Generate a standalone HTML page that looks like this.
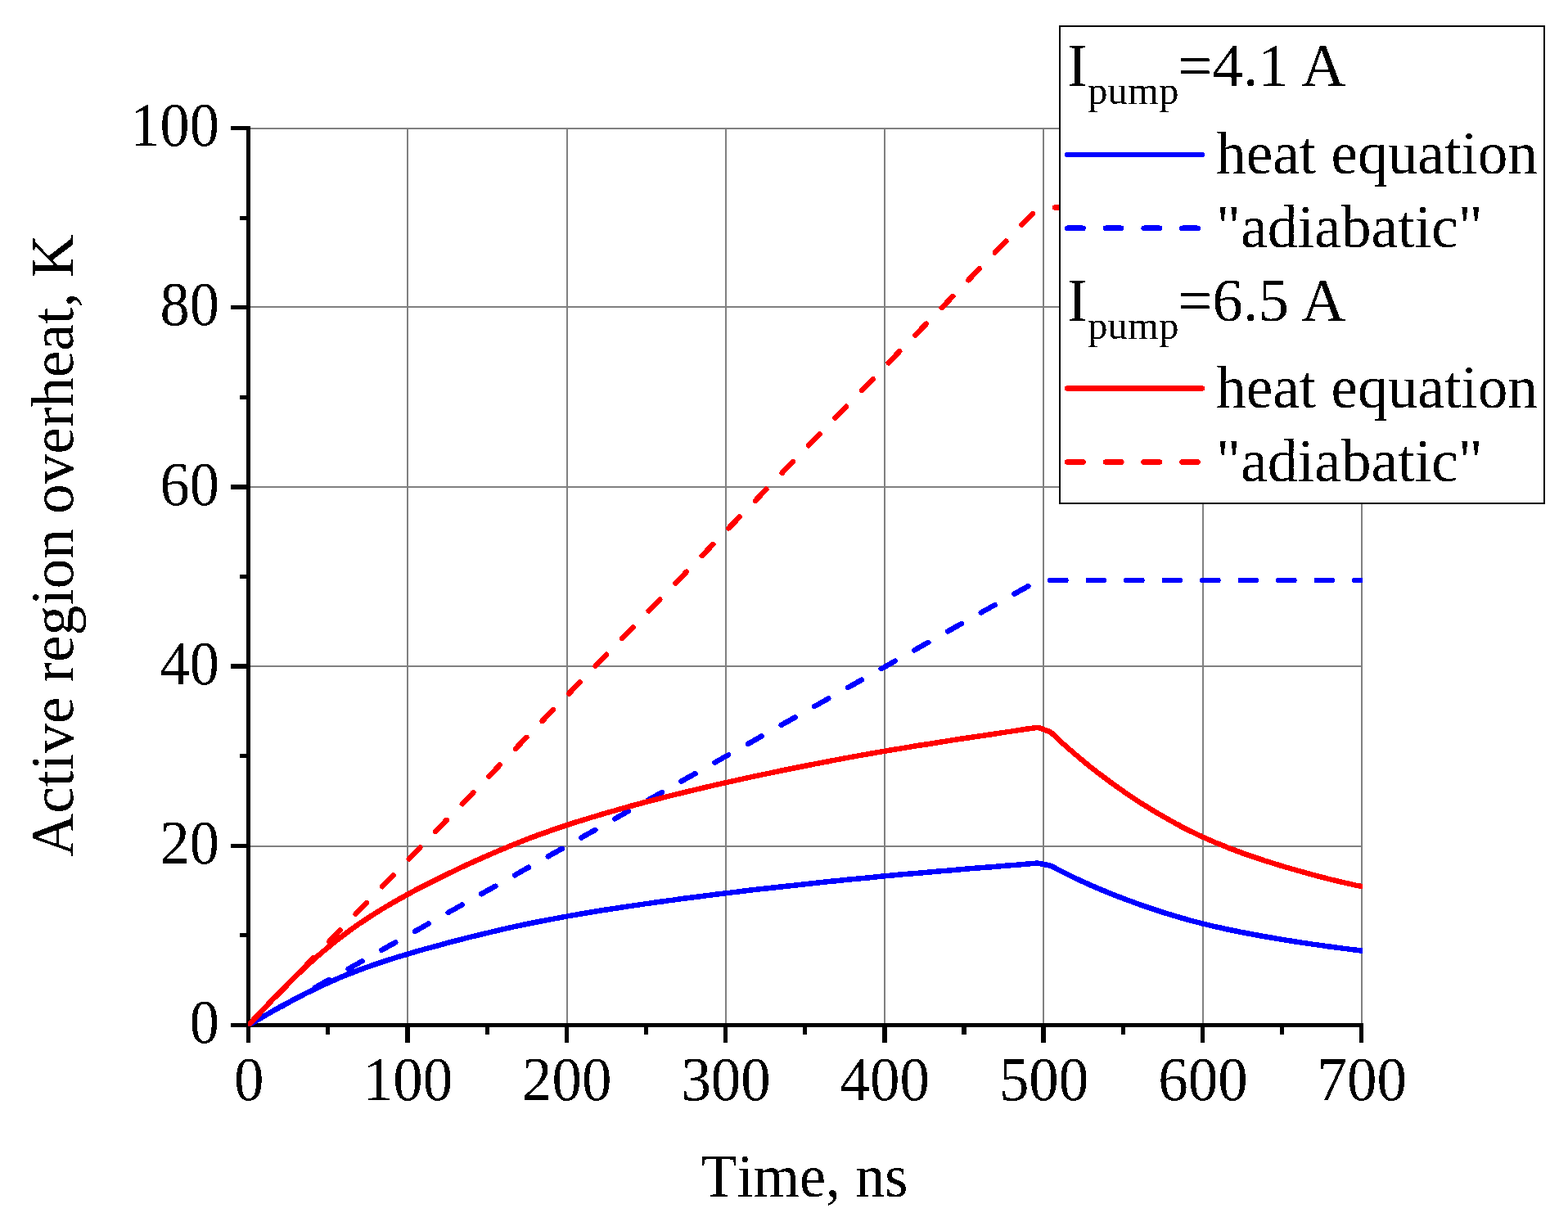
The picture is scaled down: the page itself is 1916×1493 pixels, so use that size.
<!DOCTYPE html>
<html lang="en">
<head>
<meta charset="utf-8">
<title>Active region overheat vs time</title>
<style>
html,body{margin:0;padding:0;background:#fff;}
body{width:1916px;height:1493px;overflow:hidden;}
svg{display:block;}
text{font-family:'Liberation Serif','Times New Roman',Times,serif;fill:#000;font-kerning:none;}
.cv{fill:none;stroke-width:6.5;stroke-linejoin:round;stroke-linecap:round;}
.dash{stroke-dasharray:19.4 27.3;}
.tk{font-size:76px;}
.ttl{font-size:74px;}
.lg{font-size:75px;}
.sub{font-size:49px;}
</style>
</head>
<body>
<svg width="1916" height="1493" viewBox="0 0 1916 1493">
<rect x="0" y="0" width="1916" height="1493" fill="#ffffff"/>
<defs>
<filter id="hard" filterUnits="userSpaceOnUse" x="0" y="0" width="1916" height="1493" color-interpolation-filters="sRGB">
<feComponentTransfer><feFuncA type="discrete" tableValues="0 1"/></feComponentTransfer>
</filter>
</defs>

<g fill="#808080" shape-rendering="crispEdges">
<rect x="497" y="156" width="2" height="1096"/>
<rect x="692" y="156" width="2" height="1096"/>
<rect x="886" y="156" width="2" height="1096"/>
<rect x="1080" y="156" width="2" height="1096"/>
<rect x="1274" y="156" width="2" height="1096"/>
<rect x="1469" y="156" width="2" height="1096"/>
<rect x="1663" y="156" width="2" height="1096"/>
<rect x="304" y="156" width="1361" height="2"/>
<rect x="304" y="374" width="1361" height="2"/>
<rect x="304" y="594" width="1361" height="2"/>
<rect x="304" y="813" width="1361" height="2"/>
<rect x="304" y="1033" width="1361" height="2"/>
</g>
<g fill="#000" shape-rendering="crispEdges">
<rect x="301" y="154" width="5" height="1101"/>
<rect x="301" y="1250" width="1365" height="5"/>
<rect x="301" y="1250" width="5" height="24"/>
<rect x="398" y="1250" width="5" height="14"/>
<rect x="495" y="1250" width="6" height="24"/>
<rect x="593" y="1250" width="5" height="14"/>
<rect x="690" y="1250" width="5" height="24"/>
<rect x="787" y="1250" width="5" height="14"/>
<rect x="884" y="1250" width="5" height="24"/>
<rect x="981" y="1250" width="5" height="14"/>
<rect x="1078" y="1250" width="6" height="24"/>
<rect x="1175" y="1250" width="6" height="14"/>
<rect x="1272" y="1250" width="6" height="24"/>
<rect x="1370" y="1250" width="5" height="14"/>
<rect x="1467" y="1250" width="5" height="24"/>
<rect x="1564" y="1250" width="5" height="14"/>
<rect x="1661" y="1250" width="5" height="24"/>
<rect x="282" y="154" width="21" height="5"/>
<rect x="293" y="264" width="10" height="5"/>
<rect x="282" y="373" width="21" height="5"/>
<rect x="293" y="483" width="10" height="5"/>
<rect x="282" y="592" width="21" height="6"/>
<rect x="293" y="702" width="10" height="5"/>
<rect x="282" y="811" width="21" height="6"/>
<rect x="293" y="921" width="10" height="5"/>
<rect x="282" y="1031" width="21" height="5"/>
<rect x="293" y="1140" width="10" height="5"/>
<rect x="282" y="1250" width="21" height="5"/>
</g>
<clipPath id="plot"><rect x="303" y="154" width="1362" height="1099.6"/></clipPath>
<g clip-path="url(#plot)">
<g filter="url(#hard)"><polyline class="cv" stroke="#0000ff" points="303.5,1252.5 317.1,1244.7 330.7,1236.9 344.3,1229.2 357.9,1221.8 371.5,1214.8 385.1,1208.0 398.7,1201.7 412.3,1195.7 425.9,1190.1 439.5,1184.9 453.1,1180.0 466.7,1175.4 480.3,1171.0 493.9,1166.8 507.5,1162.9 521.1,1159.0 534.7,1155.3 548.3,1151.6 561.9,1148.1 575.5,1144.7 589.1,1141.3 602.7,1138.1 616.3,1134.9 629.9,1131.9 643.5,1129.0 657.1,1126.2 670.7,1123.6 684.3,1121.1 697.9,1118.6 711.5,1116.3 725.1,1114.0 738.7,1111.8 752.3,1109.7 765.9,1107.6 779.5,1105.6 793.1,1103.6 806.7,1101.7 820.3,1099.9 833.9,1098.0 847.5,1096.2 861.1,1094.5 874.7,1092.8 888.3,1091.1 901.9,1089.5 915.5,1087.8 929.1,1086.3 942.7,1084.7 956.3,1083.2 969.9,1081.7 983.5,1080.2 997.1,1078.7 1010.7,1077.3 1024.3,1075.9 1037.9,1074.5 1051.5,1073.2 1065.1,1071.9 1078.7,1070.6 1092.3,1069.3 1105.9,1068.1 1119.5,1066.9 1133.1,1065.7 1146.7,1064.5 1160.3,1063.4 1173.9,1062.3 1187.5,1061.1 1201.1,1060.0 1214.7,1058.9 1228.3,1057.8 1241.9,1056.7 1255.5,1055.6 1268.7,1054.6 1283.7,1057.7 1298.2,1065.2 1313.8,1072.8 1329.3,1080.0 1344.9,1086.7 1360.4,1093.1 1376.0,1099.0 1391.5,1104.7 1407.0,1110.1 1422.6,1115.1 1438.1,1119.9 1453.7,1124.3 1469.2,1128.3 1484.8,1132.1 1500.3,1135.5 1515.8,1138.7 1531.4,1141.7 1546.9,1144.5 1562.5,1147.1 1578.0,1149.7 1593.6,1152.1 1609.1,1154.4 1624.6,1156.5 1640.2,1158.6 1655.7,1160.5 1663.5,1161.4"/></g>
<g filter="url(#hard)"><line class="cv dash" stroke="#0000ff" x1="303.5" y1="1252.5" x2="1269.1" y2="708.9"/></g>
<g filter="url(#hard)"><line class="cv" stroke="#0000ff" stroke-dasharray="19.2 27.3" x1="1283.2" y1="708.9" x2="1700" y2="708.9"/></g>
<g filter="url(#hard)"><polyline class="cv" stroke="#ff0000" points="303.5,1252.5 317.1,1238.1 330.7,1223.8 344.3,1209.7 357.9,1196.2 371.5,1183.1 385.1,1170.8 398.7,1159.1 412.3,1148.1 425.9,1137.8 439.5,1128.2 453.1,1119.2 466.7,1110.7 480.3,1102.7 493.9,1095.1 507.5,1087.7 521.1,1080.7 534.7,1073.8 548.3,1067.1 561.9,1060.6 575.5,1054.3 589.1,1048.2 602.7,1042.2 616.3,1036.4 629.9,1030.9 643.5,1025.5 657.1,1020.4 670.7,1015.6 684.3,1010.9 697.9,1006.4 711.5,1002.1 725.1,998.0 738.7,993.9 752.3,990.0 765.9,986.2 779.5,982.5 793.1,978.9 806.7,975.4 820.3,971.9 833.9,968.6 847.5,965.3 861.1,962.1 874.7,958.9 888.3,955.9 901.9,952.8 915.5,949.9 929.1,946.9 942.7,944.1 956.3,941.3 969.9,938.5 983.5,935.8 997.1,933.1 1010.7,930.5 1024.3,927.9 1037.9,925.4 1051.5,922.9 1065.1,920.5 1078.7,918.1 1092.3,915.8 1105.9,913.6 1119.5,911.3 1133.1,909.2 1146.7,907.0 1160.3,904.9 1173.9,902.8 1187.5,900.8 1201.1,898.7 1214.7,896.7 1228.3,894.6 1241.9,892.6 1255.5,890.5 1268.7,888.8 1283.7,894.4 1298.2,907.9 1313.8,921.6 1329.3,934.5 1344.9,946.7 1360.4,958.2 1376.0,969.1 1391.5,979.4 1407.0,989.1 1422.6,998.3 1438.1,1007.0 1453.7,1015.0 1469.2,1022.4 1484.8,1029.3 1500.3,1035.6 1515.8,1041.4 1531.4,1046.9 1546.9,1052.0 1562.5,1056.9 1578.0,1061.5 1593.6,1065.9 1609.1,1070.1 1624.6,1074.1 1640.2,1077.8 1655.7,1081.4 1663.5,1083.0"/></g>
<g filter="url(#hard)"><line class="cv" stroke="#ff0000" stroke-dasharray="19.4 27.44" stroke-dashoffset="-1.3" x1="303.5" y1="1252.5" x2="1269.1" y2="253.5"/></g>
<g filter="url(#hard)"><line class="cv" stroke="#ff0000" stroke-dasharray="19.2 27.3" x1="1289" y1="253.5" x2="1700" y2="253.5"/></g>
</g>
<g filter="url(#hard)">
<text class="tk" transform="translate(304.2,1344.2) scale(0.96,1)" text-anchor="middle">0</text>
<text class="tk" transform="translate(498.5,1344.2) scale(0.96,1)" text-anchor="middle">100</text>
<text class="tk" transform="translate(692.8,1344.2) scale(0.96,1)" text-anchor="middle">200</text>
<text class="tk" transform="translate(887.1,1344.2) scale(0.96,1)" text-anchor="middle">300</text>
<text class="tk" transform="translate(1081.3,1344.2) scale(0.96,1)" text-anchor="middle">400</text>
<text class="tk" transform="translate(1275.6,1344.2) scale(0.96,1)" text-anchor="middle">500</text>
<text class="tk" transform="translate(1469.9,1344.2) scale(0.96,1)" text-anchor="middle">600</text>
<text class="tk" transform="translate(1664.2,1344.2) scale(0.96,1)" text-anchor="middle">700</text>
<text class="tk" transform="translate(267.8,1274.1) scale(0.952,1)" text-anchor="end">0</text>
<text class="tk" transform="translate(267.8,1054.9) scale(0.952,1)" text-anchor="end">20</text>
<text class="tk" transform="translate(267.8,835.7) scale(0.952,1)" text-anchor="end">40</text>
<text class="tk" transform="translate(267.8,616.5) scale(0.952,1)" text-anchor="end">60</text>
<text class="tk" transform="translate(267.8,397.3) scale(0.952,1)" text-anchor="end">80</text>
<text class="tk" transform="translate(267.8,178.1) scale(0.952,1)" text-anchor="end">100</text>
</g>
<g filter="url(#hard)">
<text class="ttl" transform="translate(983.0,1462) scale(0.977,1)" text-anchor="middle">Time, ns</text>
<text class="ttl" transform="translate(89.3,666.4) rotate(-90) scale(0.99,1)" text-anchor="middle">Active region overheat, K</text>
</g>
<rect x="1295" y="32" width="592" height="583" fill="#ffffff" stroke="#000" stroke-width="2" shape-rendering="crispEdges"/>
<g filter="url(#hard)">
<text class="lg" x="1304" y="105.2">I<tspan class="sub" dy="22">pump</tspan><tspan dy="-22" dx="-1.7">=4.1 </tspan><tspan dx="-3.6">A</tspan></text>
<text class="lg" transform="translate(1486.1,212) scale(0.9775,1)">heat equation</text>
<text class="lg" transform="translate(1486.0,302.1) scale(0.982,1)">"adiabatic"</text>
<text class="lg" x="1304" y="391.5">I<tspan class="sub" dy="22">pump</tspan><tspan dy="-22" dx="-1.7">=6.5 </tspan><tspan dx="-3.6">A</tspan></text>
<text class="lg" transform="translate(1486.1,497.6) scale(0.9775,1)">heat equation</text>
<text class="lg" transform="translate(1486.0,587.6) scale(0.982,1)">"adiabatic"</text>
</g>
<g filter="url(#hard)"><line class="cv" stroke="#0000ff" x1="1304.2" y1="188.9" x2="1468.8" y2="188.9"/></g>
<g filter="url(#hard)"><line class="cv dash" stroke="#0000ff" x1="1304.2" y1="278.7" x2="1468.8" y2="278.7"/></g>
<g filter="url(#hard)"><line class="cv" stroke="#ff0000" x1="1304.2" y1="474.6" x2="1468.8" y2="474.6"/></g>
<g filter="url(#hard)"><line class="cv dash" stroke="#ff0000" x1="1304.2" y1="564.4" x2="1468.8" y2="564.4"/></g>
</svg>
</body>
</html>
